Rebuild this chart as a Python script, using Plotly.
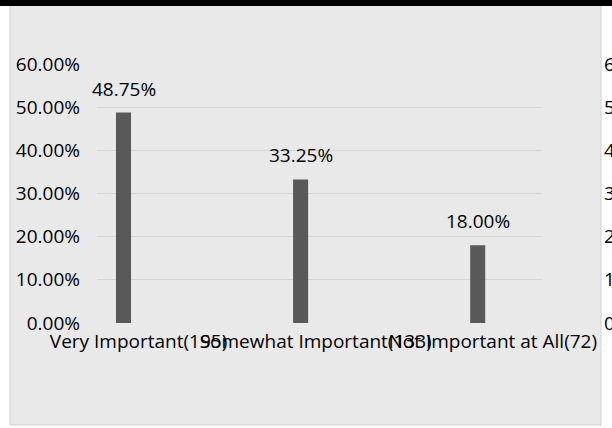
import plotly.graph_objects as go

categories = ["Very Important(195)", "Somewhat Important(133)", "Not Important at All(72)"]
shares = [0.4875, 0.3325, 0.18]
y_ticks = [0, 0.1, 0.2, 0.3, 0.4, 0.5, 0.6]

W, H = 612, 428
L, R, T, B = 97, 12, 64, 105
PW = W - L - R
PH = H - T - B
FONT = "Open Sans"
TXT = "#000000"

def px_x(p):
    return (p - L) / PW

def px_y(p):
    return (H - B - p) / PH

xs = list(range(len(categories)))

fig = go.Figure()
fig.add_trace(go.Bar(
    x=xs, y=shares, width=0.085,
    marker=dict(color="#595959", line=dict(width=0)),
    hoverinfo="skip", showlegend=False,
))
# invisible trace on secondary axis (right-hand axis)
fig.add_trace(go.Scatter(x=xs, y=shares, yaxis="y2", mode="none",
                         showlegend=False, hoverinfo="skip"))

for xi, v in zip(xs, shares):
    fig.add_annotation(x=xi, y=v, text=f"{v:.2%}", showarrow=False,
                       yanchor="bottom", xanchor="center", yshift=9,
                       font=dict(family=FONT, size=19, color=TXT))

fig.update_layout(
    width=W, height=H,
    margin=dict(l=L, r=R, t=T, b=B, pad=0, autoexpand=False),
    paper_bgcolor="#ffffff",
    plot_bgcolor="rgba(0,0,0,0)",
    font=dict(family=FONT, size=19, color=TXT),
    xaxis=dict(
        domain=[0, 445 / PW], range=[-0.1496, 2.363], automargin=False,
        tickmode="array", tickvals=[x + 0.085 for x in xs], ticktext=categories,
        tickangle=0, showgrid=False, zeroline=False, showline=False,
        ticks="", ticklabelstandoff=5,
        tickfont=dict(family=FONT, size=19, color=TXT),
    ),
    yaxis=dict(
        range=[0, 0.6], tickmode="array", tickvals=y_ticks, tickformat=".2%",
        showgrid=True, gridcolor="#d6d6d6", gridwidth=1, automargin=False,
        zeroline=False, showline=False, ticks="", ticklabelstandoff=16,
        tickfont=dict(family=FONT, size=19, color=TXT),
    ),
    yaxis2=dict(
        range=[0, 0.6], tickmode="array", tickvals=y_ticks, tickformat=".2%",
        overlaying="y", side="right", anchor="free", position=1.0,
        showgrid=False, zeroline=False, showline=False, ticks="",
        ticklabelstandoff=3, automargin=False,
        tickfont=dict(family=FONT, size=19, color=TXT),
    ),
    shapes=[
        dict(type="rect", xref="paper", yref="paper", layer="below",
             x0=px_x(10), x1=px_x(601), y0=px_y(425), y1=px_y(5),
             fillcolor="#e9e9e9", line=dict(color="#d0d0d0", width=1)),
        dict(type="rect", xref="paper", yref="paper", layer="below",
             x0=px_x(-2), x1=px_x(W + 2), y0=px_y(6), y1=px_y(-2),
             fillcolor="#000000", line=dict(width=0)),
    ],
)

fig.write_html("out.html")
